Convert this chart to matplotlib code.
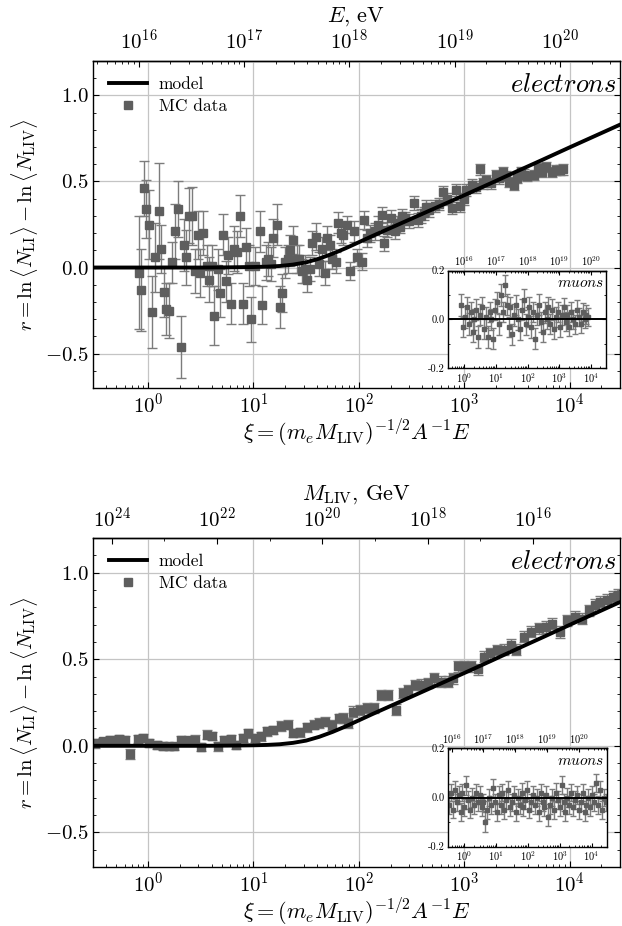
import numpy as np
import matplotlib
matplotlib.use("Agg")
import matplotlib.pyplot as plt
from matplotlib.lines import Line2D
from matplotlib.ticker import FixedLocator, FixedFormatter, MultipleLocator, NullFormatter

plt.rcParams.update({
    "font.family": "serif",
    "font.serif": ["cmr10"],
    "mathtext.fontset": "cm",
    "axes.formatter.use_mathtext": True,
    "axes.unicode_minus": False,
    "xtick.direction": "in",
    "ytick.direction": "in",
    "ytick.right": True,
    "xtick.major.size": 4.5,
    "ytick.major.size": 4.5,
    "xtick.minor.size": 2.5,
    "ytick.minor.size": 2.5,
    "axes.linewidth": 1.0,
})

# ---------------- data (log10 xi values, r values, errors) ----------------
model_logxi = [-0.6, 0.0, 0.5, 0.75, 1.0, 1.125, 1.25, 1.375, 1.5, 1.625, 1.75, 1.875, 2.0,
               2.125, 2.25, 2.375, 2.5, 2.75, 3.0, 3.25, 3.5, 3.75, 4.0, 4.25, 4.5]
model_r = [0.0, 0.0, 0.0, 0.001, 0.003, 0.005, 0.009, 0.017, 0.03, 0.052, 0.08, 0.112, 0.147,
           0.182, 0.216, 0.25, 0.284, 0.352, 0.42, 0.489, 0.559, 0.628, 0.698, 0.767, 0.836]

# panel 1 (energy scan), electrons
el1_logxi = [-0.09, -0.07, -0.04, -0.02, 0.01, 0.04, 0.07, 0.10, 0.12, 0.15,
             0.17, 0.20, 0.23, 0.26, 0.28, 0.31, 0.34, 0.36, 0.39, 0.42,
             0.45, 0.47, 0.49, 0.52, 0.56, 0.58, 0.61, 0.63, 0.66, 0.68,
             0.71, 0.74, 0.76, 0.79, 0.82, 0.84, 0.87, 0.90, 0.93, 0.96,
             0.98, 1.01, 1.06, 1.08, 1.12, 1.14, 1.17, 1.19, 1.22, 1.25,
             1.27, 1.30, 1.33, 1.35, 1.38, 1.41, 1.43, 1.46, 1.49, 1.51,
             1.54, 1.56, 1.59, 1.62, 1.65, 1.68, 1.70, 1.73, 1.75, 1.78,
             1.80, 1.83, 1.85, 1.89, 1.92, 1.95, 1.98,
             2.03, 2.05, 2.08, 2.11, 2.15, 2.18, 2.22, 2.24, 2.27, 2.31,
             2.34, 2.36, 2.39, 2.41, 2.44, 2.48, 2.52, 2.56, 2.59, 2.62,
             2.64, 2.67, 2.72, 2.76, 2.80, 2.84, 2.88, 2.92, 2.96, 3.00,
             3.02, 3.07, 3.11, 3.15, 3.18, 3.21, 3.25, 3.30, 3.33, 3.37,
             3.40, 3.43, 3.47, 3.50, 3.54, 3.57, 3.60, 3.66, 3.70, 3.74,
             3.78, 3.83, 3.87, 3.91, 3.94]
el1_r = [-0.03, -0.13, 0.46, 0.34, 0.25, -0.26, 0.06, 0.33, 0.11, -0.14,
         -0.24, -0.25, 0.03, 0.21, 0.34, -0.46, 0.13, 0.06, 0.30, 0.30,
         -0.02, 0.19, -0.03, 0.20, 0.01, -0.07, 0.01, -0.28, -0.01, -0.15,
         0.19, -0.08, 0.07, -0.21, 0.11, 0.09, 0.30, -0.21, 0.12, 0.01,
         -0.30, 0.01, 0.21, -0.22, 0.03, 0.05, 0.02, 0.17, 0.25, -0.23,
         -0.15, 0.03, 0.05, 0.10, 0.16, 0.05, 0.05, -0.02, -0.01, -0.07,
         -0.01, 0.14, 0.18, 0.02, 0.11, -0.03, 0.17, 0.13, 0.05, 0.03,
         0.26, 0.20, 0.19, 0.25, -0.02, 0.21, 0.06,
         0.035, 0.276, 0.17, 0.20, 0.21, 0.25, 0.305, 0.141, 0.22, 0.29,
         0.21, 0.26, 0.238, 0.30, 0.285, 0.27, 0.377, 0.277, 0.30, 0.314,
         0.35, 0.333, 0.356, 0.37, 0.44, 0.40, 0.344, 0.449, 0.356, 0.40,
         0.449, 0.478, 0.47, 0.57, 0.49, 0.508, 0.489, 0.537, 0.52, 0.556,
         0.53, 0.498, 0.478, 0.52, 0.556, 0.54, 0.531, 0.537, 0.576, 0.556,
         0.585, 0.556, 0.566, 0.566, 0.57]
el1_err = [0.33, 0.24, 0.16, 0.17, 0.20, 0.21, 0.20, 0.28, 0.14, 0.15,
           0.15, 0.16, 0.12, 0.16, 0.16, 0.18, 0.15, 0.16, 0.16, 0.17,
           0.13, 0.14, 0.14, 0.13, 0.12, 0.13, 0.12, 0.17, 0.12, 0.14,
           0.12, 0.12, 0.11, 0.12, 0.13, 0.12, 0.12, 0.12, 0.11, 0.12,
           0.13, 0.11, 0.12, 0.11, 0.10, 0.10, 0.10, 0.11, 0.12, 0.12,
           0.11, 0.09, 0.08, 0.09, 0.08, 0.08, 0.08, 0.07, 0.08, 0.07,
           0.07, 0.07, 0.08, 0.07, 0.07, 0.07, 0.07, 0.06, 0.06, 0.06,
           0.06, 0.06, 0.06, 0.05, 0.05, 0.06, 0.05,
           0.05, 0.05, 0.05, 0.05, 0.05, 0.05, 0.045, 0.045, 0.045, 0.045,
           0.045, 0.04, 0.04, 0.04, 0.04, 0.04, 0.04, 0.04, 0.04, 0.04,
           0.04, 0.04, 0.035, 0.035, 0.035, 0.035, 0.035, 0.035, 0.035, 0.035,
           0.035, 0.035, 0.035, 0.032, 0.032, 0.032, 0.032, 0.032, 0.032, 0.03,
           0.03, 0.03, 0.03, 0.03, 0.03, 0.03, 0.03, 0.03, 0.03, 0.03,
           0.03, 0.03, 0.03, 0.03, 0.03]

# panel 2 (M_LIV scan), electrons
el2_logxi = [-0.50, -0.43, -0.36, -0.28, -0.22, -0.17, -0.10, -0.05, 0.01, 0.08,
             0.14, 0.20, 0.25, 0.31, 0.38, 0.45, 0.50, 0.56, 0.61, 0.66,
             0.72, 0.79, 0.83, 0.90, 0.95, 1.01, 1.07, 1.13, 1.19, 1.26,
             1.33, 1.38,
             1.445, 1.508, 1.571, 1.624, 1.681, 1.744, 1.813, 1.854, 1.894, 1.948,
             2.011, 2.074, 2.146, 2.215, 2.278, 2.357, 2.42, 2.467, 2.53, 2.586,
             2.656, 2.718, 2.781, 2.844, 2.892, 2.945, 3.002, 3.065, 3.128, 3.19,
             3.247, 3.316, 3.379, 3.442, 3.489,
             3.568, 3.631, 3.709, 3.772, 3.835, 3.913, 3.976, 4.055, 4.118, 4.18,
             4.243, 4.291, 4.354, 4.417, 4.464]
el2_r = [0.015, 0.025, 0.035, 0.038, 0.035, -0.048, 0.038, 0.044, 0.015, 0.006,
         0.0, -0.004, -0.004, 0.035, 0.031, 0.035, -0.006, 0.065, 0.056, -0.004,
         0.035, 0.038, 0.006, 0.044, 0.073, 0.044, 0.054, 0.083, 0.092, 0.115,
         0.121, 0.073,
         0.078, 0.107, 0.121, 0.131, 0.14, 0.121, 0.159, 0.159, 0.131, 0.198,
         0.208, 0.217, 0.217, 0.294, 0.294, 0.208, 0.304, 0.323, 0.352, 0.352,
         0.361, 0.39, 0.371, 0.371, 0.39, 0.458, 0.461, 0.458, 0.442, 0.515,
         0.535, 0.554, 0.554, 0.583, 0.554,
         0.629, 0.659, 0.678, 0.687, 0.706, 0.659, 0.725, 0.745, 0.735, 0.783,
         0.812, 0.831, 0.841, 0.861, 0.87]
el2_err = [0.025, 0.022, 0.024, 0.022, 0.023, 0.030, 0.022, 0.024, 0.023, 0.022,
           0.024, 0.022, 0.023, 0.024, 0.022, 0.025, 0.023, 0.025, 0.024, 0.026,
           0.023, 0.025, 0.024, 0.023, 0.026, 0.024, 0.025, 0.026, 0.025, 0.027,
           0.026, 0.025,
           0.026, 0.027, 0.026, 0.028, 0.027, 0.028, 0.027, 0.028, 0.027, 0.029,
           0.028, 0.029, 0.028, 0.03, 0.029, 0.032, 0.03, 0.03, 0.03, 0.031,
           0.03, 0.031, 0.03, 0.031, 0.032, 0.03, 0.031, 0.03, 0.032, 0.031,
           0.032, 0.031, 0.032, 0.033, 0.032,
           0.032, 0.033, 0.032, 0.033, 0.032, 0.035, 0.033, 0.032, 0.033, 0.032,
           0.033, 0.032, 0.033, 0.032, 0.033]

# inset 1: muons (energy scan)
mu1_logxi = [-0.10, -0.04, 0.02, 0.08, 0.14, 0.20, 0.26, 0.32, 0.38, 0.44,
             0.50, 0.56, 0.62, 0.68, 0.74, 0.80, 0.86, 0.92, 0.98, 1.04,
             1.10, 1.16, 1.22, 1.28, 1.34, 1.40, 1.46, 1.52, 1.58, 1.64,
             1.70, 1.76, 1.82, 1.88, 1.94, 2.00, 2.06, 2.12, 2.18, 2.24,
             2.30, 2.36, 2.42, 2.48, 2.54, 2.60, 2.66, 2.72, 2.78, 2.84,
             2.90, 2.96, 3.02, 3.08, 3.14, 3.20, 3.26, 3.32, 3.38, 3.44,
             3.50, 3.56, 3.62, 3.68, 3.74, 3.80, 3.86, 3.92]
mu1_r = [0.06, -0.03, 0.01, 0.05, -0.02, 0.03, -0.05, 0.00, 0.04, -0.07,
         0.02, 0.05, -0.04, 0.01, -0.07, 0.03, 0.00, -0.08, 0.04, 0.07,
         -0.02, 0.10, 0.03, 0.14, 0.06, -0.03, 0.05, -0.06, 0.02, 0.06,
         0.00, -0.04, 0.04, 0.08, -0.02, 0.01, 0.05, -0.03, 0.03, -0.08,
         0.02, 0.06, -0.01, -0.05, 0.03, 0.00, 0.05, -0.02, 0.04, -0.04,
         0.01, 0.03, -0.03, 0.02, 0.05, -0.01, 0.02, -0.03, 0.03, 0.00,
         -0.02, 0.04, 0.01, -0.02, 0.03, 0.00, 0.02, 0.01]
mu1_err = [0.045, 0.042, 0.044, 0.043, 0.045, 0.042, 0.044, 0.043, 0.042, 0.045,
           0.043, 0.044, 0.042, 0.043, 0.045, 0.042, 0.044, 0.043, 0.042, 0.044,
           0.043, 0.045, 0.042, 0.044, 0.043, 0.042, 0.044, 0.043, 0.045, 0.042,
           0.043, 0.044, 0.042, 0.043, 0.044, 0.042, 0.043, 0.044, 0.042, 0.043,
           0.042, 0.043, 0.041, 0.042, 0.043, 0.041, 0.042, 0.041, 0.042, 0.041,
           0.04, 0.041, 0.04, 0.041, 0.04, 0.039, 0.04, 0.039, 0.04, 0.039,
           0.038, 0.039, 0.038, 0.037, 0.038, 0.037, 0.038, 0.037]

# inset 2: muons (M_LIV scan)
mu2_logxi = [-0.48, -0.42, -0.36, -0.30, -0.24, -0.18, -0.12, -0.06, 0.00, 0.06,
             0.12, 0.18, 0.24, 0.30, 0.36, 0.42, 0.48, 0.54, 0.60, 0.66,
             0.72, 0.78, 0.84, 0.90, 0.96, 1.02, 1.08, 1.14, 1.20, 1.26,
             1.32, 1.38, 1.44, 1.50, 1.56, 1.62, 1.68, 1.74, 1.80, 1.86,
             1.92, 1.98, 2.04, 2.10, 2.16, 2.22, 2.28, 2.34, 2.40, 2.46,
             2.52, 2.58, 2.64, 2.70, 2.76, 2.82, 2.88, 2.94, 3.00, 3.06,
             3.12, 3.18, 3.24, 3.30, 3.36, 3.42, 3.48, 3.54, 3.60, 3.66,
             3.72, 3.78, 3.84, 3.90, 3.96, 4.02, 4.08, 4.14, 4.20, 4.26,
             4.32, 4.38, 4.44]
mu2_r = [-0.03, 0.02, -0.05, 0.03, -0.02, 0.01, -0.06, 0.02, -0.04, 0.05,
         -0.01, -0.05, 0.00, -0.03, 0.02, -0.02, 0.01, -0.04, -0.02, -0.10,
         -0.05, 0.00, -0.03, 0.04, -0.02, -0.06, 0.01, -0.03, 0.02, -0.05,
         -0.01, 0.03, -0.04, -0.02, 0.01, -0.06, 0.00, -0.03, 0.02, -0.04,
         -0.01, 0.03, -0.05, -0.02, 0.01, -0.03, 0.00, -0.06, 0.02, -0.02,
         -0.04, 0.01, -0.08, -0.03, 0.00, -0.05, 0.02, -0.01, -0.04, 0.05,
         -0.02, -0.06, 0.00, -0.03, 0.02, -0.04, -0.01, 0.01, -0.05, -0.02,
         0.02, -0.06, -0.03, 0.00, -0.04, 0.01, -0.02, 0.06, -0.03, 0.03,
         -0.05, 0.00, -0.02]
mu2_err = [0.035, 0.036, 0.035, 0.037, 0.036, 0.035, 0.037, 0.036, 0.035, 0.038,
           0.036, 0.035, 0.037, 0.036, 0.035, 0.036, 0.037, 0.035, 0.036, 0.04,
           0.036, 0.035, 0.037, 0.036, 0.035, 0.037, 0.036, 0.035, 0.036, 0.037,
           0.035, 0.036, 0.037, 0.035, 0.036, 0.037, 0.035, 0.036, 0.037, 0.035,
           0.036, 0.037, 0.035, 0.036, 0.037, 0.035, 0.036, 0.037, 0.035, 0.036,
           0.037, 0.035, 0.036, 0.037, 0.035, 0.036, 0.037, 0.035, 0.036, 0.037,
           0.035, 0.036, 0.037, 0.035, 0.036, 0.037, 0.035, 0.036, 0.037, 0.035,
           0.036, 0.037, 0.035, 0.036, 0.037, 0.035, 0.036, 0.037, 0.035, 0.036,
           0.037, 0.035, 0.036]

# axis ticks / labels
yticks_main = [-0.5, 0.0, 0.5, 1.0]
yticklabels_main = [r"$-0.5$", r"$0.0$", r"$0.5$", r"$1.0$"]
yticks_inset = [-0.2, 0.0, 0.2]
yticklabels_inset = ["-0.2", "0.0", "0.2"]
xi_ticks = [1e0, 1e1, 1e2, 1e3, 1e4]
E_ticks = [1e16, 1e17, 1e18, 1e19, 1e20]
M_ticks = [1e16, 1e18, 1e20, 1e22, 1e24]
M_minor_ticks = [1e17, 1e19, 1e21, 1e23]
xi_lim = (0.3, 3e4)
E_per_xi_main = 1.23e16      # top axis of panel 1: E [eV] = const * xi
E_per_xi_inset1 = 1.0e16     # top axis of inset 1
E_per_xi_inset2 = 2.5e16     # top axis of inset 2
xi_at_M24 = 0.45             # panel 2 top axis: xi = xi_at_M24 * (M/1e24)^(-1/2)

DATA_C = "#5e5e5e"
ERR_C = "#7c7c7c"

fig = plt.figure(figsize=(6.22, 9.26), dpi=100)


def minor_in(lo, hi):
    """log-minor tick positions (2..9 x decade) inside [lo, hi] of the axis variable"""
    out = []
    for d in range(-2, 30):
        for s in range(2, 10):
            v = s * 10.0 ** d
            if lo <= v <= hi:
                out.append(v)
    return out


def main_panel(rect, lx, r, e):
    ax = fig.add_axes(rect)
    ax.set_axisbelow(True)
    ax.set_xscale("log")
    ax.set_xlim(*xi_lim)
    ax.set_ylim(-0.7, 1.2)
    ax.grid(True, which="major", color="#c4c4c4", lw=0.9)
    ax.errorbar(10 ** np.array(lx), r, yerr=e, fmt="s", color=DATA_C, ecolor=ERR_C,
                ms=5.4, capsize=3.6, elinewidth=1.0, capthick=1.0, zorder=2)
    ax.plot(10 ** np.array(model_logxi), model_r, color="k", lw=2.8, zorder=3)
    ax.set_yticks(yticks_main)
    ax.set_yticklabels(yticklabels_main)
    ax.yaxis.set_minor_locator(MultipleLocator(0.1))
    ax.xaxis.set_major_locator(FixedLocator(xi_ticks))
    ax.xaxis.set_minor_locator(FixedLocator(minor_in(xi_lim[0], xi_lim[1])))
    ax.xaxis.set_minor_formatter(NullFormatter())
    ax.tick_params(axis="both", which="major", labelsize=15, pad=3)
    ax.tick_params(axis="x", which="both", top=False)
    ax.set_xlabel(r"$\xi = (m_e M_{\rm LIV})^{-1/2} A^{-1} E$", fontsize=16, labelpad=0.5)
    ax.set_ylabel(r"$r = \ln\langle N_{\rm LI}\rangle - \ln\langle N_{\rm LIV}\rangle$",
                  fontsize=15, labelpad=4)
    ax.text(0.995, 0.906, r"$electrons$", transform=ax.transAxes, ha="right",
            va="baseline", fontsize=19)
    handles = [Line2D([], [], color="k", lw=2.8),
               Line2D([], [], ls="none", marker="s", color=DATA_C, ms=5.4)]
    ax.legend(handles, ["model", "MC data"], loc="upper left", frameon=False,
              fontsize=12.5, handlelength=2.2, handletextpad=0.7, labelspacing=0.4,
              borderaxespad=0.5, borderpad=0.4)
    return ax


def inset(rect, lx, r, e, kE):
    ia = fig.add_axes(rect)
    ia.set_xscale("log")
    ia.set_xlim(*xi_lim)
    ia.set_ylim(-0.2, 0.2)
    ia.errorbar(10 ** np.array(lx), r, yerr=e, fmt="s", color=DATA_C, ecolor=ERR_C,
                ms=3.0, capsize=2.3, elinewidth=1.0, capthick=1.0, zorder=2)
    ia.axhline(0.0, color="k", lw=1.4, zorder=3)
    ia.set_yticks(yticks_inset)
    ia.yaxis.set_major_formatter(FixedFormatter(yticklabels_inset))
    ia.yaxis.set_minor_locator(MultipleLocator(0.1))
    ia.xaxis.set_major_locator(FixedLocator(xi_ticks))
    ia.xaxis.set_minor_locator(FixedLocator(minor_in(xi_lim[0], xi_lim[1])))
    ia.xaxis.set_minor_formatter(NullFormatter())
    ia.tick_params(axis="both", which="major", labelsize=7.5, length=3, pad=2)
    ia.tick_params(axis="both", which="minor", length=1.6)
    ia.tick_params(axis="x", which="both", top=False)
    ia.text(0.985, 0.835, r"$muons$", transform=ia.transAxes, ha="right",
            va="baseline", fontsize=11)
    sec = ia.secondary_xaxis("top", functions=(lambda x: x * kE, lambda y: y / kE))
    sec.xaxis.set_major_locator(FixedLocator(E_ticks))
    sec.xaxis.set_minor_locator(FixedLocator(minor_in(xi_lim[0] * kE, xi_lim[1] * kE)))
    sec.xaxis.set_minor_formatter(NullFormatter())
    sec.tick_params(axis="x", which="major", labelsize=7.5, length=3, direction="in", pad=2)
    sec.tick_params(axis="x", which="minor", length=1.6, direction="in")
    return ia


# ---------------- panel 1 ----------------
ax1 = main_panel([0.1495, 0.581, 0.847, 0.3531], el1_logxi, el1_r, el1_err)
sec1 = ax1.secondary_xaxis("top", functions=(lambda x: x * E_per_xi_main,
                                              lambda y: y / E_per_xi_main))
sec1.xaxis.set_major_locator(FixedLocator(E_ticks))
sec1.xaxis.set_minor_locator(FixedLocator(minor_in(xi_lim[0] * E_per_xi_main,
                                                   xi_lim[1] * E_per_xi_main)))
sec1.xaxis.set_minor_formatter(NullFormatter())
sec1.tick_params(axis="x", which="major", labelsize=15, direction="in", length=4.5, pad=6)
sec1.tick_params(axis="x", which="minor", direction="in", length=2.5)
sec1.set_xlabel(r"$E$, eV", fontsize=16, labelpad=5)
inset([0.7198, 0.6023, 0.2545, 0.1054], mu1_logxi, mu1_r, mu1_err, E_per_xi_inset1)

# ---------------- panel 2 ----------------
ax2 = main_panel([0.1495, 0.0637, 0.847, 0.3553], el2_logxi, el2_r, el2_err)
sec2 = ax2.secondary_xaxis("top", functions=(
    lambda x: 1e24 * (xi_at_M24 / x) ** 2,
    lambda m: xi_at_M24 * (m / 1e24) ** -0.5))
sec2.xaxis.set_major_locator(FixedLocator(M_ticks))
sec2.xaxis.set_minor_locator(FixedLocator(M_minor_ticks))
sec2.xaxis.set_minor_formatter(NullFormatter())
sec2.tick_params(axis="x", which="major", labelsize=15, direction="in", length=4.5, pad=5)
sec2.tick_params(axis="x", which="minor", direction="in", length=2.5)
sec2.set_xlabel(r"$M_{\rm LIV}$, GeV", fontsize=16, labelpad=5)
inset([0.7198, 0.0856, 0.2556, 0.1063], mu2_logxi, mu2_r, mu2_err, E_per_xi_inset2)

fig.savefig("out.png", dpi=100)
